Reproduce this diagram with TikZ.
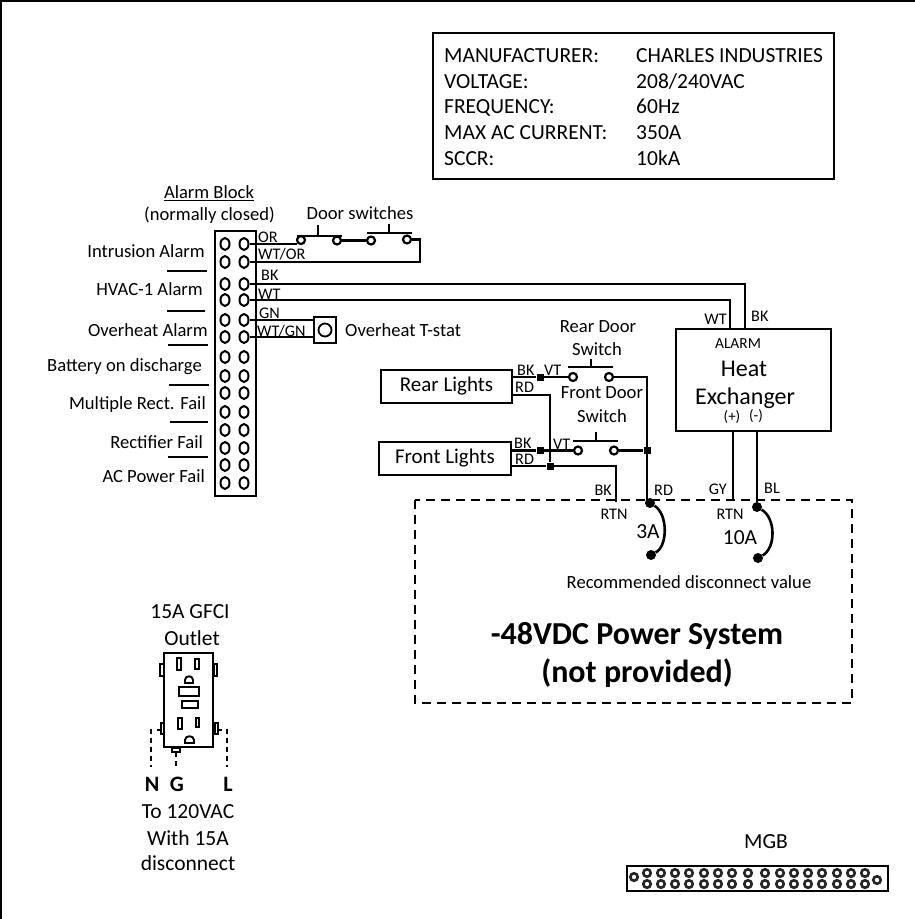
\documentclass[tikz,border=0pt]{standalone}
\usepackage{fontspec}
\setmainfont{Carlito}
\usetikzlibrary{shapes.geometric}
\tikzset{
	wire/.style={draw=black, line width=2.6pt},
	term/.style={circle, draw=black, line width=2.2pt, fill=white, inner sep=0pt, minimum size=8pt},
	pin/.style={ellipse, draw=black, line width=2pt, fill=white, inner sep=0pt, minimum width=9pt, minimum height=12pt},
	dotbox/.style={rectangle, fill=black, inner sep=0pt, minimum size=7pt},
	enddot/.style={circle, fill=black, inner sep=0pt, minimum size=10pt},
	lightbox/.style={rectangle, draw=black, line width=2pt, fill=white, font=\fontsize{21}{24}\selectfont, inner sep=0pt},
	tag/.style={font=\fontsize{16.2}{18}\selectfont, inner sep=0pt},
	lbl/.style={font=\fontsize{18.6}{21}\selectfont, inner sep=0pt},
	biglbl/.style={font=\fontsize{21.5}{24}\selectfont, inner sep=0pt},
	bar/.style={draw=black, line width=1.8pt},
	part/.style={draw=black, line width=1.9pt, fill=white},
	mgbhole/.style={circle, draw=black!85, line width=2.6pt, fill=white, inner sep=0pt, minimum size=7.5pt},
	stub/.style={draw=black, line width=1.9pt, dash pattern=on 5pt off 4pt},
}
\begin{document}
\begin{tikzpicture}[x=1pt, y=-1pt]
	\useasboundingbox (0,0) rectangle (915,919);
	% page frame
	\draw[line width=2pt] (0,0.5) -- (915,0.5);
	\draw[line width=2pt] (0.5,0) -- (0.5,919);

	% data plate
	\node[rectangle, draw=black, line width=2pt, minimum width=401pt, minimum height=146pt, inner sep=0pt] (plate) at (633.5,106) {};
	\foreach \n/\b/\y [count=\i] in {MANUFACTURER:/CHARLES INDUSTRIES/62, VOLTAGE:/{208/240VAC}/88, FREQUENCY:/60Hz/113, MAX AC CURRENT:/350A/139, SCCR:/10kA/165} {
		\node[anchor=base west, biglbl] (platek\i) at (444,\y) {\n};
		\node[anchor=base west, biglbl] (platev\i) at (636,\y) {\b};
	}

	% alarm block
	\node[lbl] (blockname) at (209,193) {\underline{Alarm Block}};
	\node[lbl] (blocknote) at (209.5,215) {(normally closed)};
	\node[rectangle, draw=black, line width=2.2pt, minimum width=41pt, minimum height=265pt, inner sep=0pt] (block) at (235.5,363.5) {};
	\foreach \y [count=\i] in {244,262,284,300,320,337,357,376,393,412,430,448,465,483} {
		\node[pin] (pl\i) at (225,\y) {};
		\node[pin] (pr\i) at (244,\y) {};
	}

	% alarm names
	\foreach \t/\x/\y/\nm in {Intrusion Alarm/205/251/a, HVAC-1 Alarm/203/289/b, Overheat Alarm/208/330/c, Battery on discharge/202/367/d, Multiple Rect. Fail/206/405/e, Rectifier Fail/203/442/f, AC Power Fail/205/476/g}
		\node[lbl, anchor=east] (name\nm) at (\x,\y) {\t};
	\foreach \xa/\xb/\y in {167/207/271, 167/205/311, 168/208/345, 169/209/385, 170/208/422, 168/208/457}
		\draw[bar] (\xa,\y) -- (\xb,\y);

	% door switches
	\node[lbl] (doorname) at (360,213) {Door switches};
	\coordinate (o1) at (297,244);
	\coordinate (c1) at (420,239.5);
	\coordinate (c2) at (420,262);
	\draw[wire] (pr1) -- (o1);
	\node[term] (s1) at (301,240) {};
	\node[term] (s2) at (337,240.5) {};
	\node[term] (s3) at (371,240.5) {};
	\node[term] (s4) at (407,239.5) {};
	\draw[wire] (s2) -- (s3);
	\draw[wire] (s4) -- (c1) -- (c2) -- (pr2);
	\draw[wire] (297,236) -- (342,236);
	\draw[wire] (318,236) -- (318,225);
	\draw[wire] (367,233) -- (412,233);
	\draw[wire] (389,233) -- (389,224);
	\node[tag, anchor=west] (tor) at (258,237) {OR};
	\node[tag, anchor=west] (twtor) at (258,254) {WT/OR};

	% alarm wires to heat exchanger
	\node[lightbox, minimum width=155pt, minimum height=102pt] (hx) at (753.5,380) {};
	\coordinate (k1) at (745,284);
	\coordinate (k2) at (745,329);
	\coordinate (w1) at (730,300);
	\coordinate (w2) at (730,329);
	\draw[wire] (pr3) -- (k1) -- (k2);
	\draw[wire] (pr4) -- (w1) -- (w2);
	\node[tag, anchor=west] (tbk) at (261,275) {BK};
	\node[tag, anchor=west] (twt) at (258,294) {WT};
	\node[tag, anchor=east] (hwt) at (727,319) {WT};
	\node[tag, anchor=west] (hbk) at (751,316) {BK};
	\node[font=\fontsize{15.4}{18}\selectfont, inner sep=0pt] (halarm) at (738,344) {ALARM};
	\node[font=\fontsize{24}{28}\selectfont, inner sep=0pt] (hname) at (744,369) {Heat};
	\node[font=\fontsize{24}{28}\selectfont, inner sep=0pt] (hname2) at (745,398) {Exchanger};
	\node[font=\fontsize{15}{18}\selectfont, inner sep=0pt] (hplus) at (732,417) {(+)};
	\node[font=\fontsize{15}{18}\selectfont, inner sep=0pt] (hminus) at (756,416) {(-)};

	% t-stat
	\node[rectangle, draw=black, line width=2pt, minimum width=22pt, minimum height=26pt, inner sep=0pt] (tstat) at (325,330) {};
	\node[circle, draw=black, line width=1.8pt, minimum size=13pt, inner sep=0pt] (tstatc) at (325,330) {};
	\coordinate (t1) at (314,320);
	\coordinate (t2) at (314,337);
	\draw[wire] (pr5) -- (t1);
	\draw[wire] (pr6) -- (t2);
	\node[tag, anchor=west] (tgn) at (259,313) {GN};
	\node[tag, anchor=west] (twtgn) at (257,331) {WT/GN};
	\node[lbl, anchor=west] (tstatname) at (345,330) {Overheat T-stat};

	% lights
	\node[lightbox, minimum width=131pt, minimum height=33pt] (rear) at (446.5,386.5) {Rear Lights};
	\node[lightbox, minimum width=132pt, minimum height=33pt] (front) at (445,458.5) {Front Lights};
	\node[enddot] (rdpt) at (650,503) {};
	\coordinate (rearbk) at (512,377);
	\coordinate (rearrd) at (512,395);
	\coordinate (frontbk) at (511,450.5);
	\coordinate (frontrd) at (511,466);
	\coordinate (q1) at (550,395);
	\coordinate (q2) at (616,466);
	\coordinate (q3) at (616,502);
	\coordinate (q4) at (647,377);
	\coordinate (q5) at (647,500);
	\node[dotbox] (dr) at (540,377) {};
	\node[dotbox] (df) at (540,450.5) {};
	\node[dotbox] (jn) at (550,466) {};
	\node[dotbox] (jr) at (647,450.5) {};
	\node[term] (rs1) at (573,377) {};
	\node[term] (rs2) at (609,377) {};
	\node[term] (fs1) at (578,450.5) {};
	\node[term] (fs2) at (614,450.5) {};
	\draw[wire] (rearbk) -- (dr) -- (rs1);
	\draw[wire] (frontbk) -- (df) -- (fs1);
	\draw[wire] (rearrd) -- (q1) -- (jn);
	\draw[wire] (frontrd) -- (jn) -- (q2) -- (q3);
	\draw[wire] (rs2) -- (q4) -- (q5);
	\draw[wire] (fs2) -- (jr);
	\draw[wire] (568,367) -- (613,367);
	\draw[wire] (591,367) -- (591,359);
	\draw[wire] (573,441) -- (618,441);
	\draw[wire] (596,441) -- (596,432);
	\node[lbl] (rearsw) at (598,327) {Rear Door};
	\node[lbl] (rearsw2) at (597,349) {Switch};
	\node[lbl] (frontsw) at (602,393) {Front Door};
	\node[lbl] (frontsw2) at (602,416) {Switch};
	\node[tag, anchor=west] (rbk) at (517,370) {BK};
	\node[tag, anchor=west] (rvt) at (544,370) {VT};
	\node[tag, anchor=west] (rrd) at (515,387) {RD};
	\node[tag, anchor=west] (fbk) at (514,443) {BK};
	\node[tag, anchor=west] (fvt) at (553,444) {VT};
	\node[tag, anchor=west] (frd) at (515,459) {RD};

	% power system
	\draw[line width=2.6pt, dash pattern=on 9pt off 6pt] (415,500) rectangle (852,703);
	\node[tag, anchor=east] (sbk) at (612,490) {BK};
	\node[tag, anchor=west] (srd) at (654,490) {RD};
	\node[tag] (srtn) at (614,514) {RTN};
	\node[tag, anchor=east] (sgy) at (727,489) {GY};
	\node[tag, anchor=west] (sbl) at (764,488) {BL};
	\node[tag] (srtn2) at (730,514) {RTN};
	\node[enddot] (blpt) at (757,507) {};
	\node[enddot] (rdend) at (651,555) {};
	\node[enddot] (blend) at (758,558) {};
	\node[biglbl] (a3) at (648,532) {3A};
	\node[biglbl] (a10) at (740,538) {10A};
	\coordinate (hxgy) at (733,431);
	\coordinate (gyend) at (733,501);
	\coordinate (hxbl) at (757,431);
	\draw[wire] (hxgy) -- (gyend);
	\draw[wire] (hxbl) -- (blpt);
	\draw[wire] (rdpt) .. controls (668,514) and (668,546) .. (rdend);
	\draw[wire] (blpt) .. controls (776,518) and (776,548) .. (blend);
	\node[lbl] (reco) at (689,582) {Recommended disconnect value};
	\node[font=\bfseries\fontsize{32}{37}\selectfont, inner sep=0pt] (power) at (637,636) {-48VDC Power System};
	\node[font=\bfseries\fontsize{32}{37}\selectfont, inner sep=0pt] (power2) at (637,673) {(not provided)};

	% outlet
	\node[biglbl] (gfci) at (190,612) {15A GFCI};
	\node[biglbl] (gfci2) at (192,638) {Outlet};
	\draw[stub] (151,729) -- (151,767);
	\draw[stub] (176,752) -- (176,767);
	\draw[stub] (227,729) -- (227,767);
	\draw[line width=1.6pt] (157,730) -- (161,730);
	\draw[line width=1.6pt] (218,730) -- (222,730);
	\foreach \xa/\ya/\xb/\yb in {160/664/164/676, 214/664/217/676, 161/723/164/734, 215/723/218/734, 172/748/180/752}
		\draw[part, line width=1.6pt] (\xa,\ya) rectangle (\xb,\yb);
	\node[rectangle, draw=black, line width=2.2pt, minimum width=49pt, minimum height=94pt, inner sep=0pt] (outlet) at (188.5,700) {};
	\foreach \xa/\ya/\xb/\yb in {177/658/181/670, 195/659/199/669, 178/718/182/729, 196/718/199/727, 179/687/199/696, 182/701/198/708}
		\draw[part] (\xa,\ya) rectangle (\xb,\yb);
	\foreach \xa/\xb/\ya/\yb in {185/193/683/675, 185/194/743/735}
		\draw[part] (\xa,\ya) -- (\xa,{\ya-3}) .. controls (\xa,\yb) and (\xb,\yb) .. (\xb,{\ya-3}) -- (\xb,\ya) -- cycle;
	\node[font=\bfseries\fontsize{22}{24}\selectfont, inner sep=0pt] (ln) at (152,784) {N};
	\node[font=\bfseries\fontsize{22}{24}\selectfont, inner sep=0pt] (lg) at (177,784) {G};
	\node[font=\bfseries\fontsize{22}{24}\selectfont, inner sep=0pt] (ll) at (228,784) {L};
	\node[biglbl] (to1) at (188,812) {To 120VAC};
	\node[biglbl] (to2) at (188,838) {With 15A};
	\node[biglbl] (to3) at (188,863) {disconnect};

	% MGB
	\node[biglbl] (mgbname) at (766,842) {MGB};
	\node[rectangle, draw=black, line width=2pt, minimum width=261pt, minimum height=25pt, inner sep=0pt] (mgb) at (757.5,878.5) {};
	\foreach \x in {647,661,675,689,704,718,732,748,765,780,794,808,822,837,851,865} {
		\node[mgbhole] at (\x,873) {};
		\node[mgbhole] at (\x,884) {};
	}
	\node[mgbhole] at (634,877) {};
	\node[mgbhole] at (877,880) {};
\end{tikzpicture}
\end{document}
